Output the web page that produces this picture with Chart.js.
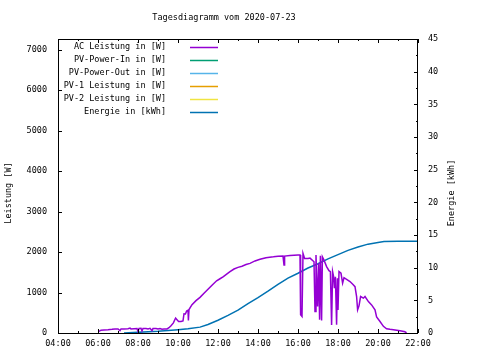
<!DOCTYPE html>
<html>
<head>
<meta charset="utf-8">
<script src="https://cdn.jsdelivr.net/npm/chart.js@4/dist/chart.umd.min.js"></script>
<style>
html,body{margin:0;padding:0;background:#fff;}
canvas{display:block;}
</style>
</head>
<body>
<canvas id="c" width="480" height="360"></canvas>
<script>
const chartTitle = 'Tagesdiagramm vom 2020-07-23';
const yTitle = 'Leistung [W]';
const y2Title = 'Energie [kWh]';

const xTickHours = [4, 6, 8, 10, 12, 14, 16, 18, 20, 22];
const xTickLabels = ['04:00', '06:00', '08:00', '10:00', '12:00', '14:00', '16:00', '18:00', '20:00', '22:00'];
const yTicks = [0, 1000, 2000, 3000, 4000, 5000, 6000, 7000];
const y2Ticks = [0, 5, 10, 15, 20, 25, 30, 35, 40, 45];

const seriesNames = ['AC Leistung in [W]', 'PV-Power-In in [W]', 'PV-Power-Out in [W]', 'PV-1 Leistung in [W]', 'PV-2 Leistung in [W]', 'Energie in [kWh]'];
const seriesColors = ['#9400d3', '#009e73', '#56b4e9', '#e69f00', '#f0e442', '#0072b2'];

// AC Leistung: time (hours) and watts
const acHours = [6.05, 6.15, 6.3, 6.5, 6.7, 6.85, 7.0, 7.1, 7.15, 7.3, 7.5, 7.6, 7.65, 7.8, 7.95, 8.0, 8.05, 8.15, 8.2, 8.25, 8.4, 8.5, 8.6, 8.7, 8.75, 8.9, 9.0, 9.1, 9.2, 9.3, 9.45, 9.55, 9.65, 9.77, 9.88, 9.95, 10.03, 10.15, 10.25, 10.3, 10.37, 10.43, 10.5, 10.52, 10.55, 10.7, 10.9, 11.1, 11.3, 11.5, 11.7, 11.93, 12.1, 12.27, 12.45, 12.6, 12.8, 13.0, 13.2, 13.4, 13.6, 13.85, 14.1, 14.4, 14.77, 15.0, 15.25, 15.3, 15.33, 15.6, 16.0, 16.1, 16.13, 16.2, 16.25, 16.33, 16.5, 16.6, 16.8, 16.85, 16.9, 16.98, 17.03, 17.08, 17.12, 17.18, 17.22, 17.3, 17.43, 17.55, 17.62, 17.68, 17.73, 17.78, 17.82, 17.87, 17.93, 17.97, 18.0, 18.05, 18.15, 18.23, 18.3, 18.43, 18.6, 18.75, 18.85, 18.93, 18.98, 19.05, 19.13, 19.27, 19.35, 19.52, 19.68, 19.85, 19.93, 20.1, 20.27, 20.43, 20.6, 20.77, 21.1, 21.35, 21.4];
const acWatts = [40, 70, 75, 80, 90, 100, 100, 60, 100, 100, 105, 120, 100, 105, 110, 40, 110, 115, 50, 110, 110, 100, 115, 60, 110, 110, 100, 110, 95, 100, 100, 130, 180, 250, 370, 330, 285, 285, 300, 475, 470, 540, 560, 310, 580, 700, 800, 880, 980, 1080, 1180, 1290, 1340, 1390, 1460, 1515, 1580, 1620, 1650, 1690, 1720, 1780, 1820, 1860, 1880, 1895, 1900, 1680, 1900, 1915, 1925, 1925, 450, 410, 1965, 1840, 1840, 1850, 1760, 530, 1925, 655, 1720, 330, 1905, 310, 1880, 1800, 1640, 1540, 1515, 200, 1515, 1390, 1105, 1390, 205, 1350, 570, 1515, 1475, 1230, 1365, 1325, 1270, 1200, 1145, 900, 570, 670, 900, 860, 900, 775, 695, 570, 395, 285, 165, 105, 90, 80, 55, 30, 0];

// Energie: time (hours) and kWh
const enHours = [7.3, 8.0, 9.0, 10.0, 10.5, 11.1, 11.5, 12.0, 12.5, 13.0, 13.5, 14.0, 14.5, 15.0, 15.5, 16.0, 16.5, 17.0, 17.5, 18.0, 18.5, 19.0, 19.5, 20.0, 20.3, 21.0, 22.0];
const enKWh = [0, 0.1, 0.25, 0.5, 0.65, 0.9, 1.3, 1.95, 2.7, 3.5, 4.5, 5.4, 6.4, 7.45, 8.4, 9.15, 9.95, 10.6, 11.35, 12.0, 12.65, 13.15, 13.6, 13.85, 14.0, 14.05, 14.05];

const FONT = 'DejaVu Sans Mono';
const fontSize = 8.5;

function pts(xs, ys) { return xs.map((x, i) => ({x: x, y: ys[i]})); }

const datasets = seriesNames.map((name, i) => ({
  label: name,
  data: i === 0 ? pts(acHours, acWatts) : (i === 5 ? pts(enHours, enKWh) : []),
  borderColor: seriesColors[i],
  backgroundColor: seriesColors[i],
  borderWidth: 1.5,
  pointRadius: 0,
  tension: 0,
  fill: false,
  yAxisID: i === 5 ? 'y2' : 'y'
}));

const decorPlugin = {
  id: 'decor',
  afterDraw(chart) {
    const ctx = chart.ctx;
    const a = chart.chartArea;
    const sx = chart.scales.x, sy = chart.scales.y, sy2 = chart.scales.y2;
    ctx.save();
    ctx.strokeStyle = '#000';
    ctx.lineWidth = 1;
    // border
    ctx.strokeRect(Math.round(a.left) + 0.5, Math.round(a.top) + 0.5, Math.round(a.right - a.left) - 1, Math.round(a.bottom - a.top));
    ctx.beginPath();
    // x ticks (bottom and top), major + minor
    for (let h = 4; h <= 22; h += 1) {
      const px = Math.round(sx.getPixelForValue(h)) + 0.5;
      const len = xTickHours.includes(h) ? 4 : 2;
      ctx.moveTo(px, a.bottom); ctx.lineTo(px, a.bottom - len);
      ctx.moveTo(px, a.top); ctx.lineTo(px, a.top + len);
    }
    // y ticks left
    yTicks.forEach(v => {
      const py = Math.round(sy.getPixelForValue(v)) + 0.5;
      ctx.moveTo(a.left, py); ctx.lineTo(a.left + 4, py);
    });
    // y2 ticks right
    for (let v = 0; v <= 45; v += 2.5) {
      const py = Math.round(sy2.getPixelForValue(v)) + 0.5;
      const len = y2Ticks.includes(v) ? 4 : 2;
      ctx.moveTo(a.right, py); ctx.lineTo(a.right - len, py);
    }
    ctx.stroke();

    ctx.fillStyle = '#000';
    ctx.font = fontSize + 'px "' + FONT + '"';
    // title
    ctx.textAlign = 'center';
    ctx.textBaseline = 'middle';
    ctx.fillText(chartTitle, 224, 18);
    // axis titles
    ctx.save();
    ctx.translate(9, 193);
    ctx.rotate(-Math.PI / 2);
    ctx.fillText(yTitle, 0, 0);
    ctx.restore();
    ctx.save();
    ctx.translate(452, 193);
    ctx.rotate(-Math.PI / 2);
    ctx.fillText(y2Title, 0, 0);
    ctx.restore();
    // legend
    chart.data.datasets.forEach((ds, i) => {
      const ly = 47 + i * 13;
      ctx.textAlign = 'right';
      ctx.fillStyle = '#000';
      ctx.fillText(ds.label, 166, ly);
      ctx.strokeStyle = ds.borderColor;
      ctx.lineWidth = 1.5;
      ctx.beginPath();
      ctx.moveTo(190, ly + 0.5); ctx.lineTo(218, ly + 0.5);
      ctx.stroke();
    });
    ctx.restore();
  }
};

const tickFont = {family: FONT, size: fontSize};

new Chart(document.getElementById('c'), {
  type: 'line',
  data: {datasets: datasets},
  options: {
    responsive: false,
    animation: false,
    devicePixelRatio: 1,
    layout: {padding: {top: 39, left: 0, right: 0, bottom: 0}},
    plugins: {legend: {display: false}, title: {display: false}, tooltip: {enabled: false}},
    scales: {
      x: {
        type: 'linear', min: 4, max: 22,
        grid: {display: false, drawTicks: false},
        border: {display: false},
        afterBuildTicks: s => { s.ticks = xTickHours.map(v => ({value: v})); },
        afterFit: s => { s.height = 27; },
        ticks: {
          font: tickFont, color: '#000', padding: 6, maxRotation: 0, autoSkip: false,
          callback: v => xTickLabels[xTickHours.indexOf(v)]
        }
      },
      y: {
        type: 'linear', position: 'left', min: 0, max: 7260,
        grid: {display: false, drawTicks: false},
        border: {display: false},
        afterBuildTicks: s => { s.ticks = yTicks.map(v => ({value: v})); },
        afterFit: s => { s.width = 58; },
        ticks: {font: tickFont, color: '#000', padding: 11, callback: v => String(v)}
      },
      y2: {
        type: 'linear', position: 'right', min: 0, max: 45,
        grid: {display: false, drawTicks: false},
        border: {display: false},
        afterBuildTicks: s => { s.ticks = y2Ticks.map(v => ({value: v})); },
        afterFit: s => { s.width = 62; },
        ticks: {font: tickFont, color: '#000', padding: 10, callback: v => String(v)}
      }
    }
  },
  plugins: [decorPlugin]
});
</script>
</body>
</html>
